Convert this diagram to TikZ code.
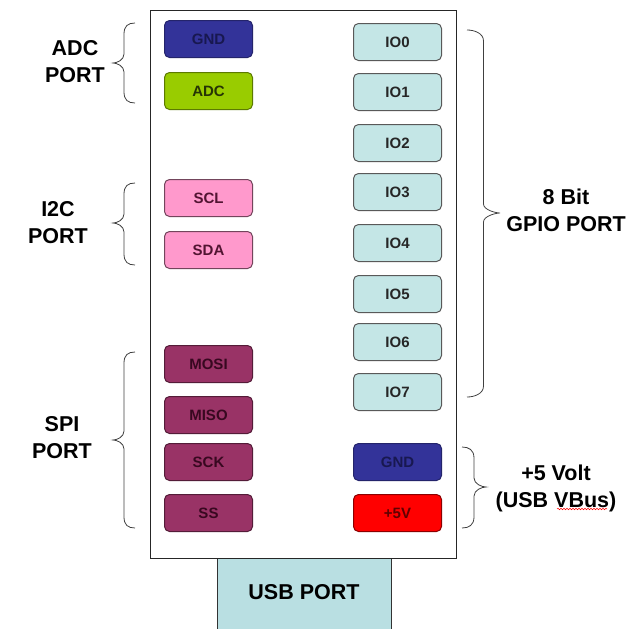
\documentclass[tikz,border=0pt]{standalone}
\usepackage{fontspec}
\setmainfont{Liberation Sans}
\usetikzlibrary{decorations.pathmorphing}

\definecolor{gndfill}{HTML}{333399}
\definecolor{gndtext}{HTML}{181850}
\definecolor{adcfill}{HTML}{99CC00}
\definecolor{adctext}{HTML}{263405}
\definecolor{i2cfill}{HTML}{FF99CC}
\definecolor{i2ctext}{HTML}{521432}
\definecolor{spifill}{HTML}{993366}
\definecolor{spitext}{HTML}{380820}
\definecolor{iofill}{HTML}{C4E6E6}
\definecolor{vfill}{HTML}{FF0000}
\definecolor{vtext}{HTML}{600000}
\definecolor{usbfill}{HTML}{B9DFE2}

% curly brace opening to the right, tip pointing left
\newcommand\bracetipleft[5]{% outer x, tip x, top, middle, bottom
  \pgfmathsetmacro\bm{(#1+#2)/2}
  \draw[bracestroke] (#1,#3) .. controls ({#1-7},#3) and (\bm,{#3+3}) .. (\bm,{#3+11})
    -- (\bm,{#4-9}) .. controls (\bm,{#4-3}) and ({#2+4},#4) .. (#2,#4)
    .. controls ({#2+4},#4) and (\bm,{#4+3}) .. (\bm,{#4+9})
    -- (\bm,{#5-11}) .. controls (\bm,{#5-3}) and ({#1-7},#5) .. (#1,#5);}
% curly brace opening to the left, tip pointing right
\newcommand\bracetipright[5]{% outer x, tip x, top, middle, bottom
  \pgfmathsetmacro\bm{(#1+#2)/2}
  \draw[bracestroke] (#1,#3) .. controls ({#1+7},#3) and (\bm,{#3+3}) .. (\bm,{#3+11})
    -- (\bm,{#4-9}) .. controls (\bm,{#4-3}) and ({#2-4},#4) .. (#2,#4)
    .. controls ({#2-4},#4) and (\bm,{#4+3}) .. (\bm,{#4+9})
    -- (\bm,{#5-11}) .. controls (\bm,{#5-3}) and ({#1+7},#5) .. (#1,#5);}

\tikzset{
  pin/.style={draw, rounded corners=5pt, line width=1pt, minimum width=88pt,
    minimum height=37pt, inner sep=0pt, anchor=north west,
    font=\fontsize{15}{16}\selectfont\bfseries},
  gndpin/.style={pin, fill=gndfill, draw=gndfill!70!black, text=gndtext},
  adcpin/.style={pin, fill=adcfill, draw=adcfill!60!black, text=adctext},
  i2cpin/.style={pin, fill=i2cfill, draw=i2cfill!45!black, text=i2ctext},
  spipin/.style={pin, fill=spifill, draw=spifill!55!black, text=spitext},
  iopin/.style={pin, fill=iofill, draw=black!65, text=black!85},
  vpin/.style={pin, fill=vfill, draw=vfill!55!black, text=vtext},
  portlabel/.style={align=center, font=\fontsize{21.5}{27}\selectfont\bfseries},
  bracestroke/.style={draw=black!75, line width=0.8pt},
}

\begin{document}
\begin{tikzpicture}[x=1pt, y=-1pt]
\useasboundingbox (0,0) rectangle (635,629);

% USB connector and board outline
\node[draw=black!80, line width=1pt, fill=usbfill, minimum width=174pt, minimum height=75pt,
  anchor=north west, inner sep=0pt] (usb) at (217,558) {};
\node[font=\fontsize{21.5}{24}\selectfont\bfseries] (usbtext) at (304,592) {USB PORT};
\node[draw=black!85, line width=1pt, fill=white, minimum width=306pt, minimum height=548pt,
  anchor=north west, inner sep=0pt] (board) at (150,10) {};

% left column of pins
\node[gndpin] (gndL) at (164,20) {GND};
\node[adcpin] (adc) at (164,72) {ADC};
\node[i2cpin] (scl) at (164,179) {SCL};
\node[i2cpin] (sda) at (164,231) {SDA};
\node[spipin] (mosi) at (164,345) {MOSI};
\node[spipin] (miso) at (164,396) {MISO};
\node[spipin] (sck) at (164,443) {SCK};
\node[spipin] (ss) at (164,494) {SS};

% right column of pins
\node[iopin] (io0) at (353,23) {IO0};
\node[iopin] (io1) at (353,73) {IO1};
\node[iopin] (io2) at (353,124) {IO2};
\node[iopin] (io3) at (353,173) {IO3};
\node[iopin] (io4) at (353,224) {IO4};
\node[iopin] (io5) at (353,275) {IO5};
\node[iopin] (io6) at (353,323) {IO6};
\node[iopin] (io7) at (353,373) {IO7};
\node[gndpin] (gndR) at (353,443) {GND};
\node[vpin] (v5) at (353,494) {+5V};

% group braces
\bracetipleft{135}{113}{23}{63}{103}
\bracetipleft{135}{113}{183}{223}{265}
\bracetipleft{135}{113}{352}{440}{528}
\bracetipright{467}{500}{30}{213}{397}
\bracetipright{462}{486}{447}{487}{528}

% group labels
\node[portlabel] (adclbl) at (75,62) {ADC\\PORT};
\node[portlabel] (i2clbl) at (58,223) {I2C\\PORT};
\node[portlabel] (spilbl) at (62,438) {SPI\\PORT};
\node[portlabel] (gpiolbl) at (566,210) {8 Bit\\GPIO PORT};
\node[portlabel] (pwrlbl) at (556,488) {+5 Volt\\(USB VBus)};
\draw[red, line width=0.5pt, decorate, decoration={snake, amplitude=0.8pt, segment length=3pt}]
  (557,509) -- (607,509);
\end{tikzpicture}
\end{document}
